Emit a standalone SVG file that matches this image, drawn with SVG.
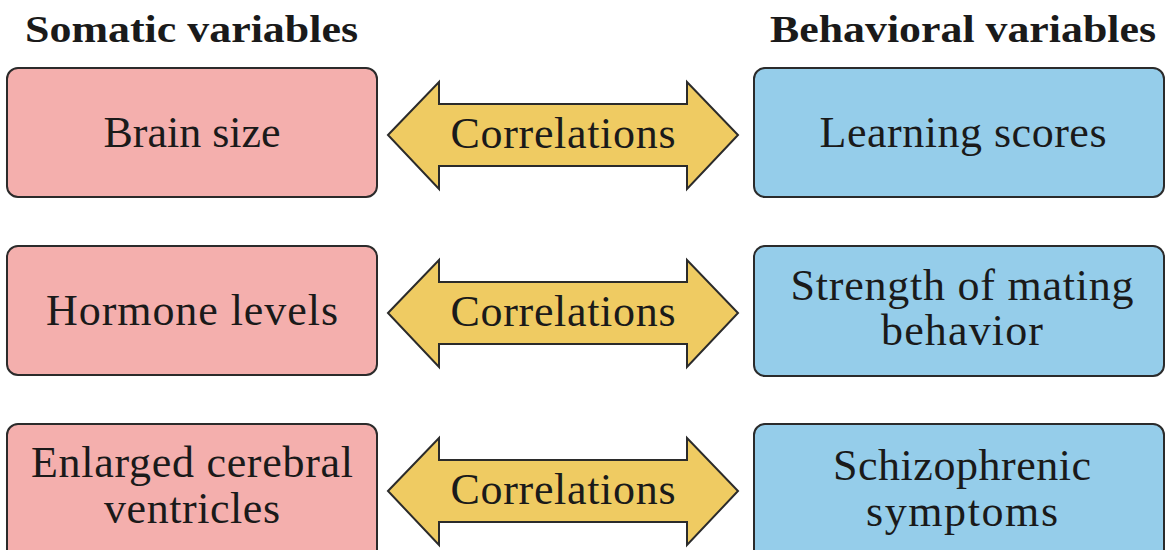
<svg xmlns="http://www.w3.org/2000/svg" width="1165" height="550" viewBox="0 0 1165 550">
<defs>
<style>
.s{fill:#F4AFAD;stroke:#2b2b2b;stroke-width:2}
.b{fill:#95CDEA;stroke:#2b2b2b;stroke-width:2}
.a{fill:#EFCB62;stroke:#2b2b2b;stroke-width:2;stroke-linejoin:miter}
.t{font-family:"Liberation Serif","Times New Roman",serif;font-size:44px;fill:#1a1a1a;text-anchor:middle}
.h{font-family:"Liberation Serif","Times New Roman",serif;font-size:38px;font-weight:bold;fill:#1a1a1a}
</style>
<path id="arr" class="a" d="M388,135 L439,82 L439,104 L687,104 L687,82 L738,135 L687,189 L687,166 L439,166 L439,189 Z"/>
</defs>
<rect width="1165" height="550" fill="#fff"/>
<g id="headers">
<text class="h" x="25" y="42" textLength="333" lengthAdjust="spacingAndGlyphs">Somatic variables</text>
<text class="h" x="770" y="42" textLength="386" lengthAdjust="spacingAndGlyphs">Behavioral variables</text>
</g>
<g id="connectors">
<g id="c1"><use href="#arr"/><text class="t" x="563" y="148" textLength="225" lengthAdjust="spacing">Correlations</text></g>
<g id="c2"><use href="#arr" y="178"/><text class="t" x="563" y="326" textLength="225" lengthAdjust="spacing">Correlations</text></g>
<g id="c3"><use href="#arr" y="356"/><text class="t" x="563" y="504" textLength="225" lengthAdjust="spacing">Correlations</text></g>
</g>
<g id="n-brain"><rect class="s" x="7" y="68" width="370" height="129" rx="11"/><text class="t" x="192" y="147" textLength="177" lengthAdjust="spacing">Brain size</text></g>
<g id="n-hormone"><rect class="s" x="7" y="246" width="370" height="129" rx="11"/><text class="t" x="192" y="325" textLength="292" lengthAdjust="spacing">Hormone levels</text></g>
<g id="n-ventricles"><rect class="s" x="7" y="424" width="370" height="140" rx="11"/><text class="t" x="192" y="477" textLength="322" lengthAdjust="spacing">Enlarged cerebral</text><text class="t" x="192" y="523" textLength="176" lengthAdjust="spacing">ventricles</text></g>
<g id="n-learning"><rect class="b" x="754" y="68" width="410" height="129" rx="11"/><text class="t" x="963" y="147" textLength="287" lengthAdjust="spacing">Learning scores</text></g>
<g id="n-mating"><rect class="b" x="754" y="246" width="410" height="130" rx="11"/><text class="t" x="962" y="300" textLength="343" lengthAdjust="spacing">Strength of mating</text><text class="t" x="962" y="345" textLength="162" lengthAdjust="spacing">behavior</text></g>
<g id="n-schizo"><rect class="b" x="754" y="424" width="410" height="140" rx="11"/><text class="t" x="962" y="480" textLength="258" lengthAdjust="spacing">Schizophrenic</text><text class="t" x="962" y="526" textLength="192" lengthAdjust="spacing">symptoms</text></g>
</svg>
